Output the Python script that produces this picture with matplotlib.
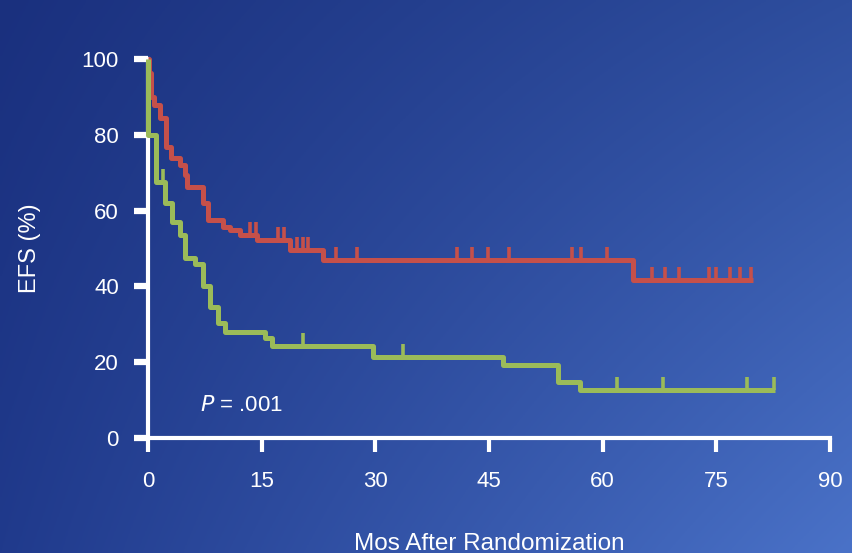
import numpy as np
import matplotlib.pyplot as plt

plt.rcParams['font.family'] = ['Liberation Sans', 'DejaVu Sans']

# step times (months) and EFS (%) after each step
red_times = [0, 0.13, 0.4, 0.8, 1.6, 2.4, 3.0, 4.2, 4.9, 5.1, 7.3, 7.9, 9.9, 10.8, 12.1, 14.4, 18.7, 23.1, 64.0]
red_surv = [100, 96.3, 90, 87.9, 84.4, 76.8, 73.9, 72, 69.4, 66.2, 62, 57.5, 55.7, 54.9, 53.6, 52.2, 49.6, 47, 41.7]
red_end = 79.8
red_censor = [13.5, 14.2, 17.2, 18.0, 19.7, 20.4, 21.1, 24.8, 27.6, 40.8, 42.7, 44.9, 47.6,
              55.9, 57.1, 60.6, 66.5, 68.2, 70.1, 74.0, 74.9, 76.8, 78.1, 79.6]

green_times = [0, 0, 1.06, 2.24, 3.17, 4.2, 4.9, 6.2, 7.3, 8.2, 9.2, 10.2, 15.4, 16.4, 29.7, 46.8, 54.1, 57.0]
green_surv = [100, 80, 67.5, 62, 57, 53.5, 47.5, 46, 40, 34.6, 30.3, 28, 26.4, 24.3, 21.4, 19.3, 14.9, 12.7]
green_end = 82.7
green_censor = [2.0, 20.4, 33.6, 61.9, 67.9, 79.0, 82.6]

x_ticks = [0, 15, 30, 45, 60, 75, 90]
y_ticks = [0, 20, 40, 60, 80, 100]

RED = '#c5504a'
GREEN = '#9bbb59'

fig = plt.figure(figsize=(8.52, 5.53), dpi=100)

# background gradient
bg = fig.add_axes([0, 0, 1, 1], zorder=-10)
bg.axis('off')
yy, xx = np.mgrid[0:1:200j, 0:1:300j]
tl = np.array([26, 48, 126]) / 255
tr = np.array([46, 78, 158]) / 255
bl = np.array([32, 58, 140]) / 255
br = np.array([74, 114, 200]) / 255
img = (tl * ((1 - xx) * (1 - yy))[..., None] + tr * (xx * (1 - yy))[..., None]
       + bl * ((1 - xx) * yy)[..., None] + br * (xx * yy)[..., None])
bg.imshow(img, aspect='auto', extent=[0, 1, 1, 0])
bg.set_xlim(0, 1)
bg.set_ylim(1, 0)

ax = fig.add_axes([0.1737, 0.208, 0.8005, 0.6854])
ax.patch.set_alpha(0)


def km(times, surv, end, censor, color):
    t = list(times) + [end]
    s = list(surv) + [surv[-1]]
    ax.step(t, s, where='post', color=color, lw=3.6, zorder=5, clip_on=False,
            solid_joinstyle='round', solid_capstyle='butt')
    for c in censor:
        idx = np.searchsorted(times, c, side='right') - 1
        lvl = surv[idx]
        ax.vlines(c, lvl, lvl + 3.4, color=color, lw=2.6, zorder=5)


km(red_times, red_surv, red_end, red_censor, RED)
km(green_times, green_surv, green_end, green_censor, GREEN)

ax.set_xlim(0, 90)
ax.set_ylim(0, 100)
ax.set_xticks(x_ticks)
ax.set_yticks(y_ticks)
for side in ['top', 'right']:
    ax.spines[side].set_visible(False)
for side in ['left', 'bottom']:
    ax.spines[side].set_color('white')
    ax.spines[side].set_linewidth(3)
    ax.spines[side].set_zorder(3)
ax.tick_params(axis='y', length=10, width=4.5, color='white', labelcolor='white',
               labelsize=16, pad=11)
ax.tick_params(axis='x', length=10, width=3, color='white', labelcolor='white',
               labelsize=16, pad=14)

ax.set_ylabel('EFS (%)', color='white', fontsize=17, labelpad=29)
ax.set_xlabel('Mos After Randomization', color='white', fontsize=17.5, labelpad=29)

ax.text(6.9, 8.7, '$P$ = .001', color='white', fontsize=16, ha='left', va='center')

fig.savefig('out.png', dpi=100)
